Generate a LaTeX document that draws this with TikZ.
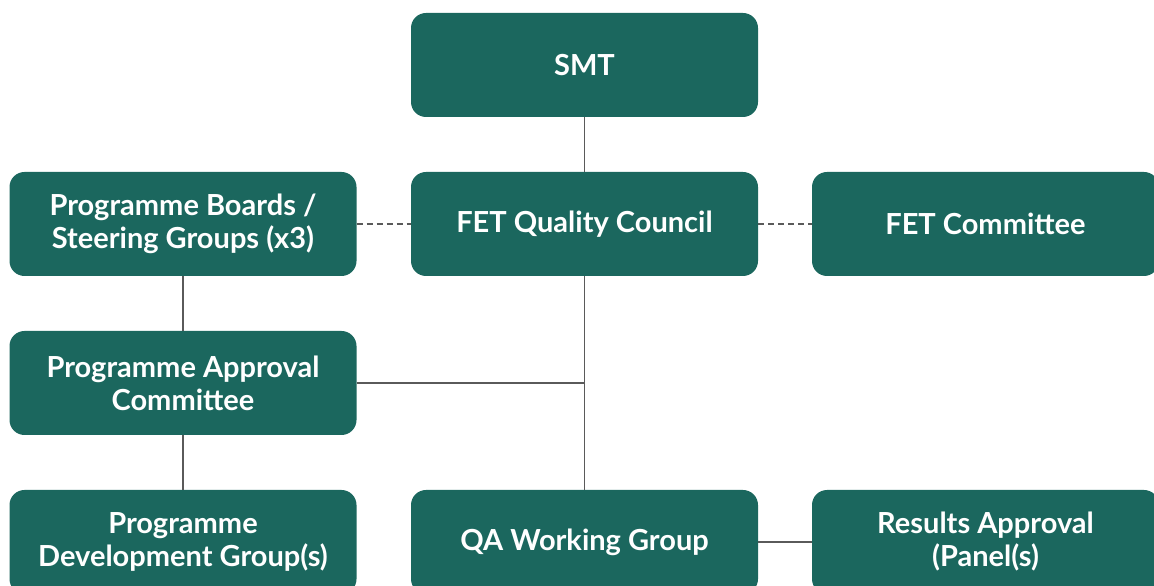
\documentclass[tikz,border=0pt]{standalone}
\usepackage{fontspec}
\setmainfont{Lato}
\usetikzlibrary{positioning}
\tikzset{
  unit/.style={draw=none,fill=boxColor,text=white,rounded corners=15,
    minimum width=347,minimum height=104,inner sep=0pt,align=center,
    font=\fontsize{29}{33}\selectfont\bfseries},
  link/.style={draw=lineColor,line width=1.5pt},
  peer/.style={link,dash pattern=on 6pt off 4pt}
}
\begin{document}
\begin{tikzpicture}[x=1pt,y=1pt]
\definecolor{boxColor}{RGB}{27,103,94}
\definecolor{lineColor}{RGB}{90,90,90}
\useasboundingbox (0,0) rectangle (1154,586);
\clip (0,0) rectangle (1154,586);

% top row and council row
\node[unit] (smt) at (584.5,521) {SMT};
\node[unit] (council) at (584.5,362) {FET Quality Council};
\node[unit] (boards) at (183,362) {Programme Boards /\\Steering Groups (x3)};
\node[unit] (committee) at (985.5,362) {FET Committee};

% approval row
\node[unit] (approval) at (183,203) {Programme Approval\\Committee};

% bottom row
\node[unit] (development) at (183,44) {Programme\\Development Group(s)};
\node[unit] (qa) at (584.5,44) {QA Working Group};
\node[unit] (results) at (985.5,44) {Results Approval\\(Panel(s)};

\coordinate (join) at (council.south |- approval.east);

\draw[link] (smt) -- (council);
\draw[link] (council) -- (qa);
\draw[link] (approval.east) -- (join);
\draw[link] (boards) -- (approval);
\draw[link] (approval) -- (development);
\draw[link] (qa) -- (results);
\draw[peer] (boards) -- (council);
\draw[peer] (council) -- (committee);
\end{tikzpicture}
\end{document}
